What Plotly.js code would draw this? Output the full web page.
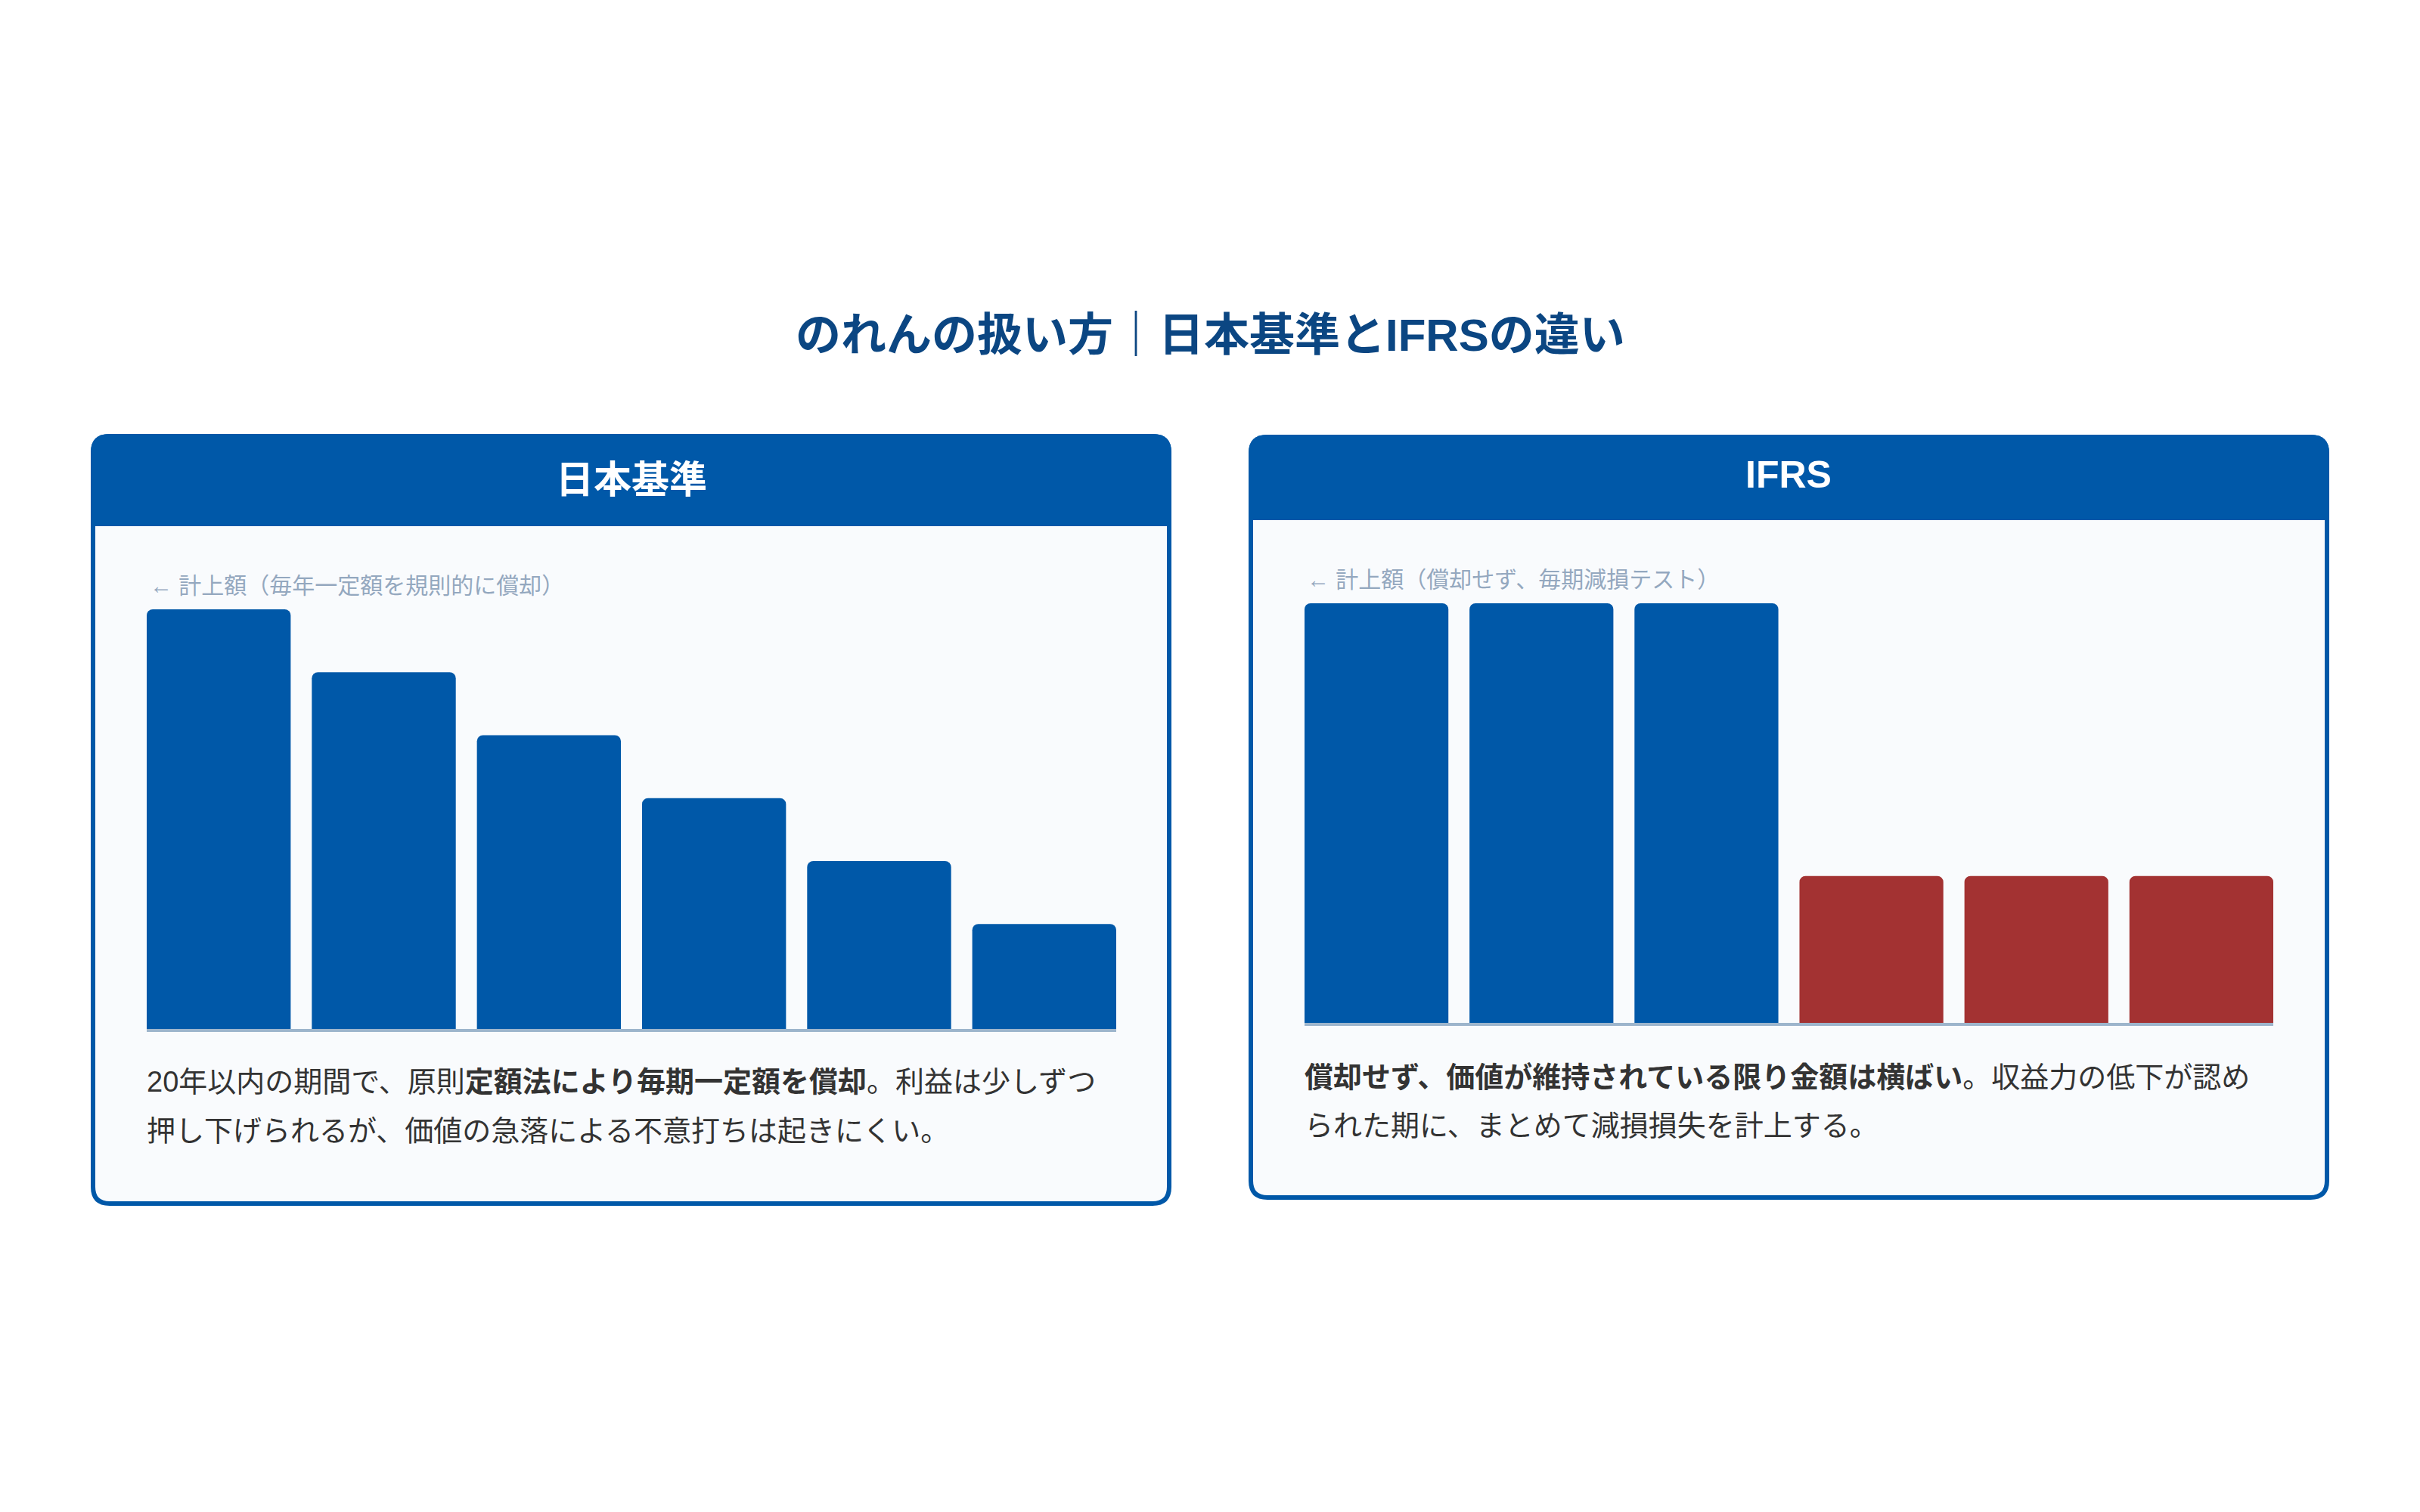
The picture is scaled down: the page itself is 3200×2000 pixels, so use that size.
<!DOCTYPE html>
<html>
<head>
<meta charset="utf-8">
<script src="https://cdn.plot.ly/plotly-3.0.1.min.js"></script>
<style>
  html, body { margin: 0; padding: 0; background: #fff; }
  #chart { width: 3200px; height: 2000px; }
</style>
</head>
<body>
<div id="chart"></div>
<script>
// data
const periods = ['1期', '2期', '3期', '4期', '5期', '6期'];
const jpValues = [100, 85, 70, 55, 40, 25];
const ifrsValues = [100, 100, 100, 35, 35, 35];
const ifrsImpaired = [false, false, false, true, true, true];

const chartTitle = 'のれんの扱い方｜日本基準とIFRSの違い';
const jpHeader = '日本基準';
const ifrsHeader = 'IFRS';
const jpNote = '← 計上額（毎年一定額を規則的に償却）';
const ifrsNote = '← 計上額（償却せず、毎期減損テスト）';
const jpText = ['20年以内の期間で、原則<b>定額法により毎期一定額を償却</b>。利益は少しずつ',
                '押し下げられるが、価値の急落による不意打ちは起きにくい。'];
const ifrsText = ['<b>償却せず、価値が維持されている限り金額は横ばい</b>。収益力の低下が認め',
                  'られた期に、まとめて減損損失を計上する。'];

const W = 3200, H = 2000;
const BLUE = '#0058a8', RED = '#a33232';
const FONT = '"Liberation Sans", "Noto Sans CJK JP", sans-serif';

// pixel -> paper
const px = x => x / W;
const py = y => 1 - y / H;

function roundRect(x0, y0, x1, y1, r, topOnly) {
  const p = (x, y) => px(x) + ',' + py(y);
  let d = 'M' + p(x0, y0 + r) + ' Q' + p(x0, y0) + ' ' + p(x0 + r, y0) +
          ' L' + p(x1 - r, y0) + ' Q' + p(x1, y0) + ' ' + p(x1, y0 + r);
  if (topOnly) {
    d += ' L' + p(x1, y1) + ' L' + p(x0, y1) + ' Z';
  } else {
    d += ' L' + p(x1, y1 - r) + ' Q' + p(x1, y1) + ' ' + p(x1 - r, y1) +
         ' L' + p(x0 + r, y1) + ' Q' + p(x0, y1) + ' ' + p(x0, y1 - r) + ' Z';
  }
  return d;
}

function card(x0, y0, x1, y1, headBottom) {
  return [
    { type: 'path', xref: 'paper', yref: 'paper', layer: 'below',
      path: roundRect(x0 + 3, y0 + 3, x1 - 3, y1 - 3, 22, false),
      fillcolor: '#f9fbfd', line: { color: BLUE, width: 6 } },
    { type: 'path', xref: 'paper', yref: 'paper', layer: 'below',
      path: roundRect(x0, y0, x1, headBottom, 24, true),
      fillcolor: BLUE, line: { width: 0 } }
  ];
}

const data = [
  {
    type: 'bar', x: periods, y: jpValues, xaxis: 'x', yaxis: 'y',
    marker: { color: BLUE, cornerradius: 8 },
    hoverinfo: 'skip'
  },
  {
    type: 'bar', x: periods, y: ifrsValues, xaxis: 'x2', yaxis: 'y2',
    marker: { color: ifrsImpaired.map(f => f ? RED : BLUE), cornerradius: 8 },
    hoverinfo: 'skip'
  }
];

const bargap = 0.128;
const xr = [-0.5 + bargap / 2, periods.length - 0.5 - bargap / 2];
const xAxisBase = {
  type: 'category', range: xr, showticklabels: false, ticks: '',
  showgrid: false, zeroline: false, showline: true,
  linecolor: '#9db5cc', linewidth: 4, fixedrange: true
};
const yAxisBase = { range: [0, 100], visible: false, fixedrange: true };

function note(text, x, y, size, color, opts) {
  return Object.assign({
    xref: 'paper', yref: 'paper', x: px(x), y: py(y),
    xanchor: 'left', yanchor: 'middle', showarrow: false,
    text: text, font: { family: FONT, size: size, color: color }
  }, opts || {});
}

const layout = {
  width: W, height: H,
  margin: { t: 0, b: 0, l: 0, r: 0 },
  paper_bgcolor: '#ffffff',
  plot_bgcolor: 'rgba(0,0,0,0)',
  showlegend: false,
  bargap: bargap,
  xaxis: Object.assign({}, xAxisBase, { domain: [px(194), px(1476)], anchor: 'y' }),
  yaxis: Object.assign({}, yAxisBase, { domain: [py(1361), py(806)], anchor: 'x' }),
  xaxis2: Object.assign({}, xAxisBase, { domain: [px(1725), px(3006)], anchor: 'y2' }),
  yaxis2: Object.assign({}, yAxisBase, { domain: [py(1353), py(798)], anchor: 'x2' }),
  shapes: [].concat(
    card(120, 574, 1549, 1595, 696),
    card(1651, 575, 3080, 1587, 688)
  ),
  annotations: [
    note('<b>' + chartTitle + '</b>', 1600, 443, 60, '#0b4682', { xanchor: 'center' }),
    note('<b>' + jpHeader + '</b>', 835, 635, 50, '#ffffff', { xanchor: 'center' }),
    note('<b>' + ifrsHeader + '</b>', 2365, 628, 50, '#ffffff', { xanchor: 'center' }),
    note(jpNote, 196, 774, 30, '#94a8bf'),
    note(ifrsNote, 1726, 766, 30, '#94a8bf'),
    note(jpText[0], 192, 1431, 38, '#333333'),
    note(jpText[1], 192, 1496, 38, '#333333'),
    note(ifrsText[0], 1723, 1425, 38, '#333333'),
    note(ifrsText[1], 1723, 1489, 38, '#333333')
  ]
};

const config = { responsive: false, displayModeBar: false, staticPlot: true };

Plotly.newPlot('chart', data, layout, config);
</script>
</body>
</html>
